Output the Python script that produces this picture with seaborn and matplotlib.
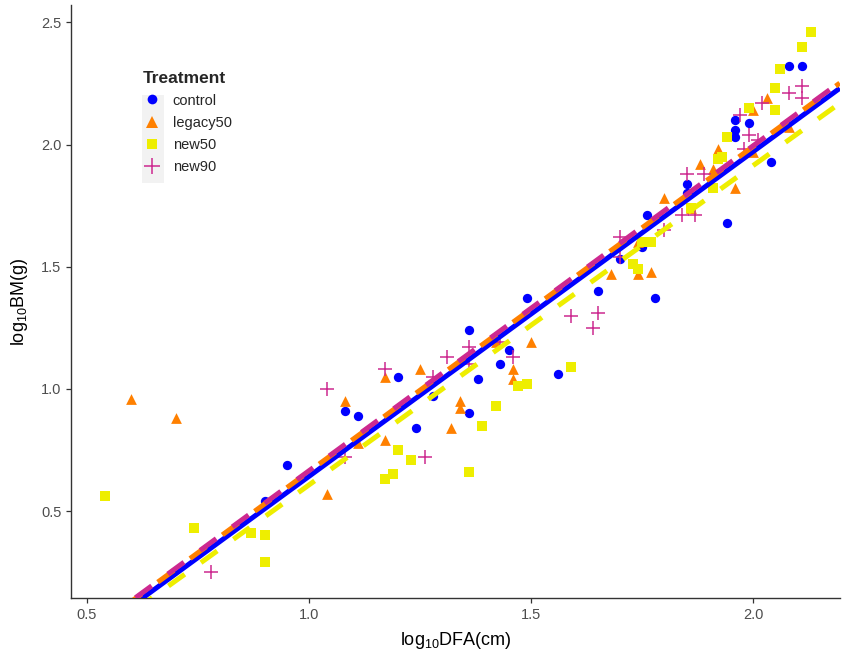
import numpy as np
import pandas as pd
import matplotlib
matplotlib.use("Agg")
import matplotlib.pyplot as plt
import seaborn as sns
from matplotlib.lines import Line2D
from matplotlib.patches import Rectangle

treatments = ["control", "legacy50", "new50", "new90"]

control_x = [0.90, 0.95, 1.08, 1.11, 1.20, 1.24, 1.28, 1.36, 1.36, 1.38, 1.43, 1.45, 1.49, 1.56,
             1.65, 1.70, 1.75, 1.76, 1.78, 1.85, 1.85, 1.94, 1.96, 1.99, 1.96, 1.96, 2.04, 2.08, 2.11]
control_y = [0.54, 0.69, 0.91, 0.89, 1.05, 0.84, 0.97, 1.24, 0.90, 1.04, 1.10, 1.16, 1.37, 1.06,
             1.40, 1.53, 1.58, 1.71, 1.37, 1.84, 1.80, 1.68, 2.10, 2.09, 2.06, 2.03, 1.93, 2.32, 2.32]

legacy50_x = [0.60, 0.70, 1.04, 1.08, 1.11, 1.17, 1.17, 1.25, 1.32, 1.34, 1.34, 1.42, 1.46, 1.46, 1.50,
              1.68, 1.74, 1.74, 1.77, 1.80, 1.86, 1.88, 1.91, 1.92, 1.96, 2.00, 2.00, 2.03, 2.08]
legacy50_y = [0.96, 0.88, 0.57, 0.95, 0.78, 1.05, 0.79, 1.08, 0.84, 0.95, 0.92, 1.19, 1.08, 1.04, 1.19,
              1.47, 1.47, 1.60, 1.48, 1.78, 1.74, 1.92, 1.90, 1.98, 1.82, 1.97, 2.14, 2.19, 2.07]

new50_x = [0.54, 0.74, 0.87, 0.90, 0.90, 1.17, 1.19, 1.20, 1.23, 1.36, 1.39, 1.42, 1.47, 1.49, 1.59,
           1.73, 1.74, 1.75, 1.77, 1.86, 1.91, 1.92, 1.93, 1.94, 1.99, 2.05, 2.05, 2.06, 2.11, 2.13]
new50_y = [0.56, 0.43, 0.41, 0.40, 0.29, 0.63, 0.65, 0.75, 0.71, 0.66, 0.85, 0.93, 1.01, 1.02, 1.09,
           1.51, 1.49, 1.60, 1.60, 1.74, 1.82, 1.94, 1.95, 2.03, 2.15, 2.14, 2.23, 2.31, 2.40, 2.46]

new90_x = [0.78, 1.04, 1.08, 1.17, 1.26, 1.28, 1.31, 1.36, 1.36, 1.43, 1.46, 1.59, 1.64, 1.65, 1.70,
           1.70, 1.80, 1.84, 1.87, 1.85, 1.89, 1.97, 1.98, 1.99, 2.01, 2.02, 2.08, 2.11, 2.11]
new90_y = [0.25, 1.00, 0.72, 1.08, 0.72, 1.05, 1.13, 1.17, 1.10, 1.19, 1.13, 1.30, 1.25, 1.31, 1.62,
           1.54, 1.65, 1.71, 1.71, 1.88, 1.88, 2.12, 1.98, 2.04, 2.02, 2.17, 2.21, 2.24, 2.19]

# fitted regression lines
fit_intercept = [-0.687, -0.668, -0.700, -0.665]
fit_slope = [1.329, 1.330, 1.307, 1.330]

x_ticks = [0.5, 1.0, 1.5, 2.0]
x_ticklabels = ["0.5", "1.0", "1.5", "2.0"]
y_ticks = [0.5, 1.0, 1.5, 2.0, 2.5]
y_ticklabels = ["0.5", "1.0", "1.5", "2.0", "2.5"]

colors = {"control": "#0000FF", "legacy50": "#FF8000", "new50": "#EEEE00", "new90": "#CD2990"}
markers = {"control": "o", "legacy50": "^", "new50": "s", "new90": "+"}
sizes = {"control": 45, "legacy50": 60, "new50": 42, "new90": 110}
line_styles = {"control": "-", "legacy50": (2.5, (4, 4)), "new50": (0, (4, 4)), "new90": (0, (4, 4))}

xs = {"control": control_x, "legacy50": legacy50_x, "new50": new50_x, "new90": new90_x}
ys = {"control": control_y, "legacy50": legacy50_y, "new50": new50_y, "new90": new90_y}

frames = []
for t in treatments:
    frames.append(pd.DataFrame({"DFA": xs[t], "BM": ys[t], "Treatment": t}))
df = pd.concat(frames, ignore_index=True)

sns.set_style("white")
plt.rcParams["font.family"] = ["Liberation Sans", "DejaVu Sans"]
plt.rcParams["mathtext.fontset"] = "custom"
plt.rcParams["mathtext.rm"] = "Liberation Sans"
plt.rcParams["mathtext.it"] = "Liberation Sans"

fig = plt.figure(figsize=(8.43, 6.55), dpi=100)
ax = fig.add_axes([0.0842, 0.087, 0.912, 0.905])

xlim = (0.464, 2.195)
ylim = (0.144, 2.57)

for t in treatments:
    sub = df[df["Treatment"] == t]
    kw = dict(linewidth=0) if t != "new90" else dict(linewidth=1.1)
    sns.scatterplot(data=sub, x="DFA", y="BM", color=colors[t], marker=markers[t],
                    s=sizes[t], ax=ax, zorder=2, legend=False, **kw)

xline = np.linspace(xlim[0], xlim[1], 50)
for i, t in enumerate(treatments):
    yline = fit_intercept[i] + fit_slope[i] * xline
    ax.plot(xline, yline, color=colors[t], linestyle=line_styles[t], linewidth=3.6,
            zorder=3, solid_capstyle="butt", dash_capstyle="butt")

ax.set_xlim(*xlim)
ax.set_ylim(*ylim)
ax.set_xticks(x_ticks)
ax.set_xticklabels(x_ticklabels)
ax.set_yticks(y_ticks)
ax.set_yticklabels(y_ticklabels)

for side in ["top", "right"]:
    ax.spines[side].set_visible(False)
for side in ["left", "bottom"]:
    ax.spines[side].set_color("#333333")
    ax.spines[side].set_linewidth(1.0)
ax.tick_params(axis="both", which="major", length=3.5, width=0.9, color="#333333",
               labelcolor="#4D4D4D", labelsize=10.5, direction="out", bottom=True, left=True)

ax.set_xlabel("log$_{10}$DFA(cm)", fontsize=13, color="black", labelpad=6)
ax.set_ylabel("log$_{10}$BM(g)", fontsize=13, color="black", labelpad=8)

handles = []
for t in treatments:
    if t == "new90":
        h = Line2D([], [], linestyle="none", marker="+", markersize=12, markeredgewidth=1.1,
                   color=colors[t])
    else:
        ms = {"control": 7, "legacy50": 9, "new50": 7}[t]
        h = Line2D([], [], linestyle="none", marker=markers[t], markersize=ms,
                   markerfacecolor=colors[t], markeredgecolor=colors[t], markeredgewidth=0)
    handles.append(h)

# grey background behind the legend keys
key_bg = Rectangle((142 / 843, 1 - 183 / 655), 22 / 843, 88 / 655,
                   transform=fig.transFigure, facecolor="#F2F2F2",
                   edgecolor="none", zorder=4, clip_on=False)
ax.add_patch(key_bg)

leg = ax.legend(handles, treatments, title="Treatment", loc="upper left",
                bbox_to_anchor=(0.0803, 0.907), frameon=False, fontsize=10.5,
                title_fontsize=12.5, handlelength=1.2, handletextpad=0.85,
                labelspacing=0.55, borderpad=0.2)
leg.set_zorder(6)
leg._legend_box.align = "left"
leg.get_title().set_fontweight("bold")

fig.savefig("out.png", dpi=100)
